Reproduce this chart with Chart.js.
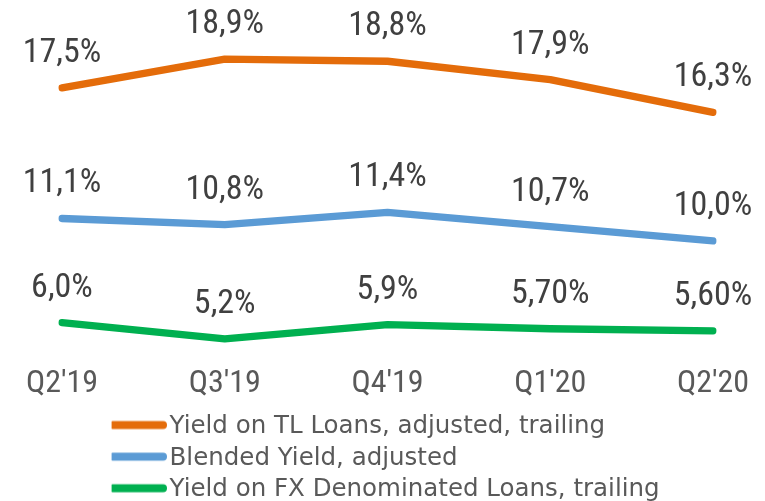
<!DOCTYPE html>
<html><head><meta charset="utf-8">
<script src="https://cdn.jsdelivr.net/npm/chart.js@4.4.1/dist/chart.umd.min.js"></script>
<style>
html,body{margin:0;padding:0;background:#fff;overflow:hidden;width:765px;height:501px;}
#wrap{position:absolute;left:0;top:0;width:765px;height:512px;}
</style></head><body>
<div id="wrap"><canvas id="c" width="765" height="512"></canvas></div>
<script>
const categories = ["Q2'19", "Q3'19", "Q4'19", "Q1'20", "Q2'20"];
const seriesNames = ["Yield on TL Loans, adjusted, trailing", "Blended Yield, adjusted", "Yield on FX Denominated Loans, trailing"];
const tlYield = [17.5, 18.9, 18.8, 17.9, 16.3];
const blendedYield = [11.1, 10.8, 11.4, 10.7, 10.0];
const fxYield = [6.0, 5.2, 5.9, 5.7, 5.6];
const tlDecimals = [1, 1, 1, 1, 1];
const blendedDecimals = [1, 1, 1, 1, 1];
const fxDecimals = [1, 1, 1, 2, 2];
const seriesColors = ['#E46C0A', '#5B9BD5', '#00B050'];

const NARROW = "'Roboto Condensed', 'DejaVu Sans Condensed', Roboto, sans-serif";

function makeGlyph(color){
  const c = document.createElement('canvas');
  c.width = 58; c.height = 14;
  const g = c.getContext('2d');
  g.strokeStyle = color; g.lineWidth = 7.8; g.lineCap = 'round';
  g.beginPath(); g.moveTo(3.9, 5.5); g.lineTo(54.1, 5.5); g.stroke();
  return c;
}
const legendGlyphs = seriesColors.map(makeGlyph);

const valueLabels = {
  id: 'valueLabels',
  afterLayout(chart){
    if (chart.legend) { chart.legend.left = 111.6; }
  },
  afterDatasetsDraw(chart){
    const ctx = chart.ctx;
    chart.data.datasets.forEach((ds, i) => {
      const meta = chart.getDatasetMeta(i);
      meta.data.forEach((pt, j) => {
        const txt = ds.data[j].toFixed(ds.decimals[j]).replace('.', ',') + '%';
        ctx.save();
        ctx.font = "34px " + NARROW;
        ctx.fillStyle = '#404040';
        ctx.textAlign = 'center';
        ctx.textBaseline = 'alphabetic';
        ctx.fillText(txt, pt.x, pt.y - 26);
        ctx.restore();
      });
    });
  }
};

const mk = (label, data, color, decimals) => ({
  label, data, decimals,
  borderColor: color, backgroundColor: color,
  borderWidth: 7.3, pointRadius: 0, pointHoverRadius: 0,
  borderCapStyle: 'round', borderJoinStyle: 'round',
  tension: 0, fill: false
});

new Chart(document.getElementById('c'), {
  type: 'line',
  data: {
    labels: categories,
    datasets: [
      mk(seriesNames[0], tlYield, seriesColors[0], tlDecimals),
      mk(seriesNames[1], blendedYield, seriesColors[1], blendedDecimals),
      mk(seriesNames[2], fxYield, seriesColors[2], fxDecimals)
    ]
  },
  options: {
    responsive: false,
    animation: false,
    devicePixelRatio: 1,
    layout: { padding: { left: 62, right: 52, top: 20, bottom: 0 } },
    scales: {
      x: {
        offset: false,
        grid: { display: false, drawTicks: false },
        border: { display: false },
        ticks: { color: '#595959', font: { family: NARROW, size: 32 }, padding: 4.5, maxRotation: 0, autoSkip: false }
      },
      y: { display: false, min: 4.18, max: 20.82 }
    },
    plugins: {
      tooltip: { enabled: false },
      legend: {
        position: 'bottom',
        align: 'start',
        labels: {
          color: '#595959',
          font: { family: "'DejaVu Sans', sans-serif", size: 24.5 },
          padding: 7.1,
          usePointStyle: true,
          pointStyleWidth: 38.6,
          generateLabels(chart){
            const items = Chart.defaults.plugins.legend.labels.generateLabels(chart);
            items.forEach((it, i) => { it.pointStyle = legendGlyphs[i]; });
            return items;
          }
        }
      }
    }
  },
  plugins: [valueLabels]
});
</script>
</body></html>
